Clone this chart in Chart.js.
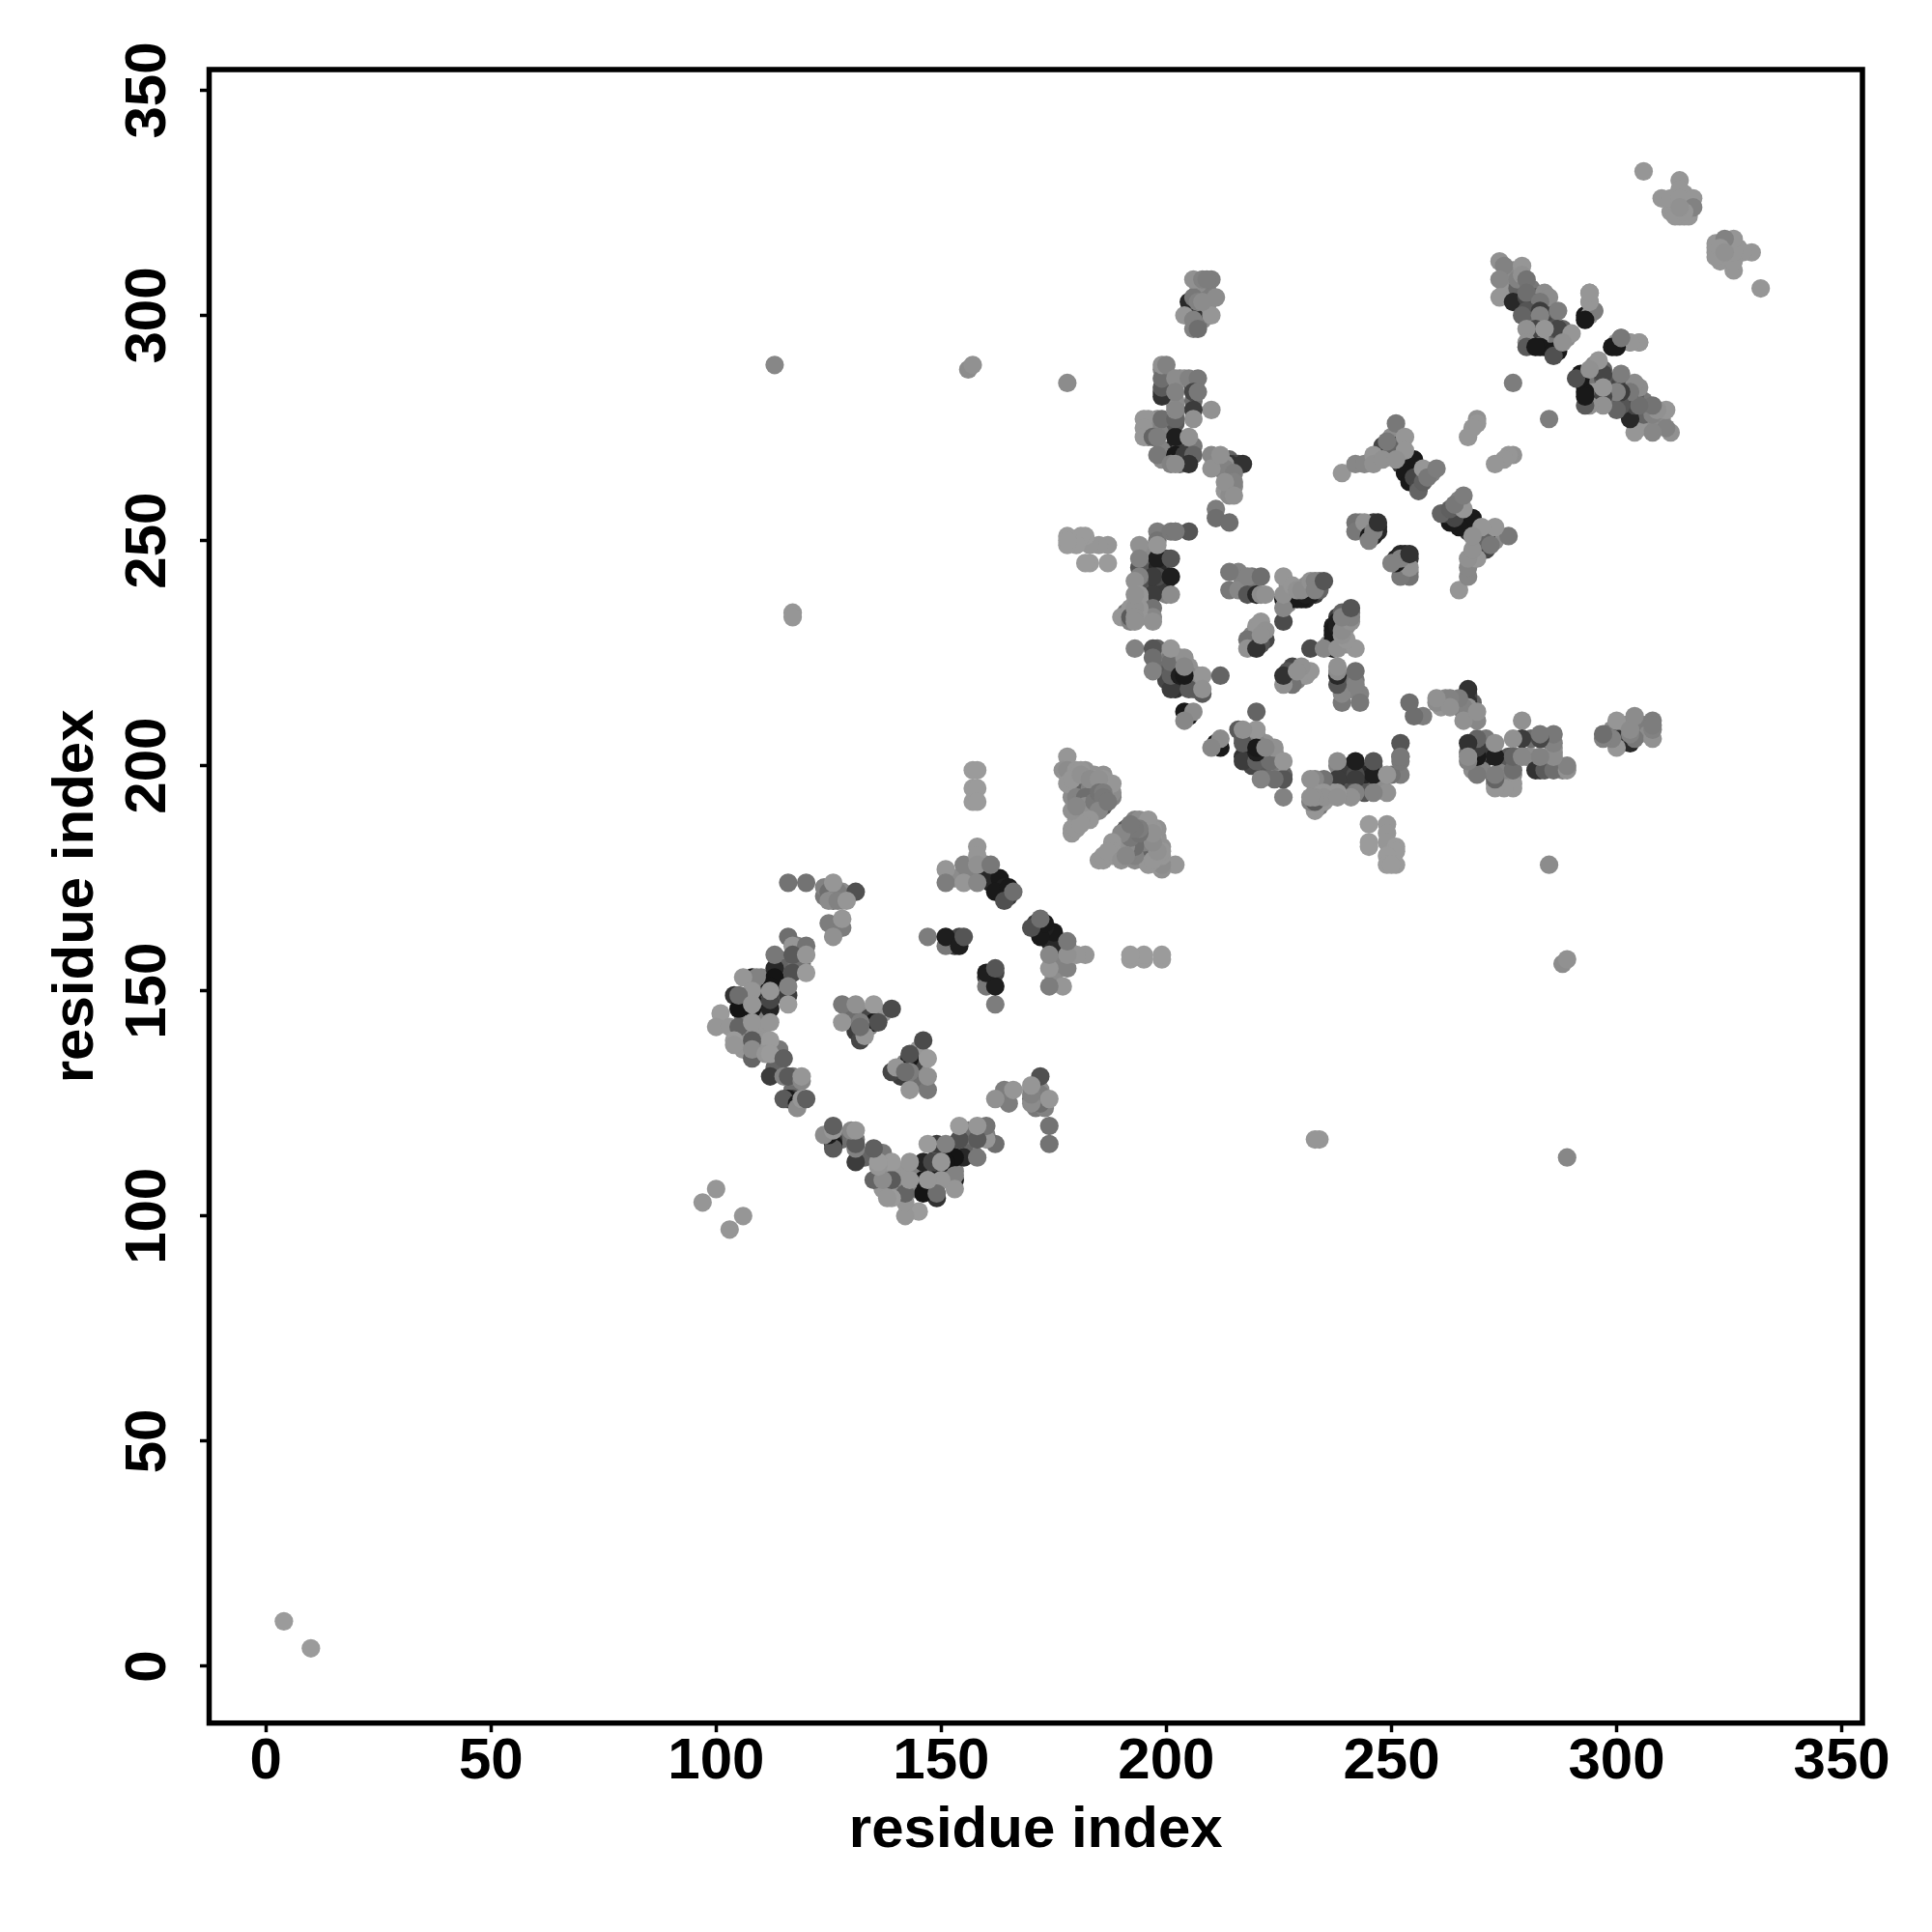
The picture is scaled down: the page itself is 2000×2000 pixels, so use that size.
<!DOCTYPE html>
<html>
<head>
<meta charset="utf-8">
<title>residue contacts</title>
<script src="https://cdn.jsdelivr.net/npm/chart.js@4/dist/chart.umd.min.js"></script>
<style>
  body { margin: 0; background: #fff; }
</style>
</head>
<body>
<canvas id="myChart" width="2000" height="2000"></canvas>
<script>
'use strict';

let xTicks = [0, 50, 100, 150, 200, 250, 300, 350];
let yTicks = [0, 50, 100, 150, 200, 250, 300, 350];
let axisName = 'residue index';

// contacts, upper triangle only (the map is symmetric)
// the first rows are the half hidden ones, they get drawn underneath the rest
let contactI = [
  106, 109, 110, 109, 113, 113, 114, 110, 110, 110, 107, 107, 114, 111, 110, 106, 114, 115, 118, 118, 119, 106, 107, 110, 110, 113, 114, 117, 117, 117,
  124, 126, 128, 127, 128, 126, 130, 133, 134, 131, 137, 134, 152, 153, 153, 154, 159, 161, 162, 163, 161, 163, 164, 165, 160, 157, 153, 156,
  195, 196, 195, 196, 196, 195, 195, 196, 195, 199, 199, 199, 200, 200, 200, 198, 198, 219, 217, 219, 216, 227, 229, 229, 231, 233, 234, 227, 231, 234, 227, 219, 220, 219, 220,
  203, 202, 202, 203, 199, 199, 198, 200, 206, 207, 206, 207, 205, 200,
  249, 250, 252, 252, 254, 254, 256, 255, 253, 252, 250, 247, 259, 257, 243, 246, 246, 244, 243, 247,
  199, 200, 199, 203, 204, 202, 202, 206, 206, 198, 196, 196, 196, 197, 199, 200, 202, 203, 205, 204, 206, 199, 199, 203,
  214, 214, 215, 213, 214, 212, 211, 214, 215, 216, 213,
  207, 208, 209, 208, 209, 207, 208, 206, 205, 209, 207, 207,
  275, 276, 275, 277, 281, 282, 281, 282, 284, 285, 281, 285, 284, 282, 281, 285, 284, 288, 285, 282, 283, 287, 289, 281, 278,
  315, 313, 314, 315, 312, 316, 315, 316,
  4, 97, 100, 113, 156, 157, 178, 117, 117, 277,
  108, 113, 113, 104, 108, 105, 108, 112, 112, 116, 112, 117, 116,
  116, 117, 120, 113, 117, 120, 120, 116, 109, 106, 112, 108, 105, 108, 101, 100, 103, 105, 108, 112,
  104, 104, 108, 112, 108, 108, 111, 112, 115, 112, 115, 116, 119, 119, 116, 115, 118, 118, 119, 120,
  116, 120, 124, 125, 127, 126, 125, 127, 131, 129, 125, 128, 128, 126,
  135, 131, 128, 128, 131, 135, 139, 136, 132, 132, 133, 132,
  147, 151, 151, 154, 155,
  160, 163, 164, 162, 165, 164, 151, 151, 155, 155, 158, 158, 158, 158, 161, 166,
  157, 158, 157, 158, 157, 158,
  178, 177, 178, 178, 180, 182, 184, 186, 186, 179, 179, 180, 181, 182, 183, 183, 184, 185, 186, 187, 188,
  184, 181, 180, 179, 179, 180, 182, 182, 188, 188, 178, 184, 181,
  179, 181, 183, 185, 180, 181, 182, 182, 183, 184, 185, 186, 186, 185, 187, 183, 181, 180, 181, 179, 180,
  187, 187, 183, 182, 185, 183, 182, 181, 180, 178, 178, 178,
  198, 194, 194, 198, 197, 201, 201, 197, 191, 194, 198, 198, 201, 202, 205, 194, 198, 194, 194, 193, 201, 194, 194,
  190, 192, 193, 197, 197, 194, 194, 192, 192, 193, 193, 197, 193, 202, 193,
  214, 214, 216, 218, 218, 220, 221, 221, 222,
  226, 228, 230, 232, 231, 226, 226, 226, 226, 228, 229, 230, 232, 233, 233, 235,
  218, 218, 222, 221, 220, 221, 222, 221,
  193, 197, 197, 197, 201, 201, 201, 201, 201, 201, 204, 203, 205, 205, 208, 208, 208, 212, 204, 204, 201, 204, 205, 206, 204,
  255, 253, 254, 251, 248, 255, 256, 256, 257, 250, 239, 242, 244, 246, 246, 248, 249, 251, 253, 253, 251, 257, 258, 260,
  242, 242, 244, 245, 247, 246, 245, 247,
  269, 269, 268, 267,
  199, 199, 199, 199, 200, 202, 202, 205, 207, 206, 207, 210, 206, 206, 202, 202, 195, 199, 195, 195, 197, 198, 202, 205,
  198, 202, 204, 206, 205, 201, 202, 202, 202,
  214, 217, 213, 213, 215, 215, 213, 210, 210, 212, 215, 211, 211, 214,
  205, 206, 204, 210, 206, 206, 206, 208, 210, 209, 207, 208, 211, 206, 207,
  274, 275, 279, 274, 278, 279, 280, 274, 279, 277, 280, 280, 284, 285, 283, 280, 283, 287, 279, 283,
  286, 282, 287, 290, 280, 284, 280, 280, 283, 282, 286, 287, 286, 288, 294, 294, 293, 295, 300, 301, 303, 305, 299,
  306, 314, 314, 310, 312, 314, 317, 313, 316, 317, 315, 314
];
let contactJ = [
  148, 147, 148, 149, 149, 152, 154, 151, 153, 146, 146, 149, 150, 147, 144, 144, 157, 155, 156, 160, 156, 137, 141, 141, 139, 133, 137, 128, 131, 126,
  171, 172, 172, 171, 170, 170, 145, 145, 144, 143, 145, 142, 161, 161, 160, 162, 176, 176, 174, 173, 174, 172, 172, 171, 178, 176, 175, 176,
  248, 244, 243, 240, 238, 240, 236, 234, 234, 246, 243, 240, 238, 246, 241, 240, 244, 240, 241, 242, 243, 237, 237, 238, 237, 238, 239, 240, 240, 241, 236, 227, 228, 229, 231,
  218, 217, 222, 224, 224, 222, 226, 225, 219, 218, 217, 220, 222, 219,
  270, 269, 269, 267, 266, 265, 265, 266, 268, 272, 273, 268, 265, 264, 253, 254, 251, 252, 254, 253,
  288, 287, 283, 286, 286, 280, 281, 281, 284, 277, 277, 275, 273, 275, 275, 270, 271, 270, 271, 270, 271, 270, 268, 267,
  264, 262, 262, 261, 260, 267, 268, 268, 267, 267, 265,
  305, 305, 305, 301, 302, 300, 299, 302, 301, 306, 307, 298,
  308, 310, 305, 310, 306, 304, 303, 302, 302, 301, 300, 299, 298, 295, 296, 295, 293, 297, 296, 299, 295, 295, 295, 298, 306,
  325, 323, 322, 322, 323, 324, 327, 326,
  10, 103, 106, 289, 288, 289, 285, 234, 233, 285,
  153, 155, 153, 149, 148, 146, 146, 146, 151, 149, 148, 154, 151,
  162, 160, 160, 158, 158, 158, 154, 147, 153, 153, 150, 150, 149, 147, 145, 142, 142, 142, 143, 143,
  139, 138, 139, 139, 135, 137, 136, 136, 135, 131, 131, 131, 130, 131, 126, 126, 125, 124, 126, 126,
  174, 174, 173, 172, 172, 174, 170, 170, 172, 170, 165, 164, 166, 162,
  143, 141, 147, 143, 147, 147, 146, 143, 143, 139, 140, 142,
  162, 160, 162, 160, 162,
  175, 175, 173, 172, 173, 170, 177, 174, 178, 174, 182, 180, 178, 174, 178, 172,
  199, 199, 195, 195, 192, 192,
  202, 199, 198, 199, 199, 199, 198, 198, 197, 195, 193, 196, 194, 196, 195, 193, 194, 192, 191, 194, 193,
  190, 190, 188, 186, 185, 187, 188, 190, 194, 196, 196, 197, 199,
  197, 198, 197, 197, 193, 192, 193, 191, 190, 192, 194, 194, 193, 190, 192, 188, 188, 186, 187, 190, 191,
  245, 249, 245, 245, 249, 249, 251, 251, 249, 249, 251, 250,
  246, 244, 240, 242, 242, 242, 246, 238, 234, 241, 252, 250, 252, 252, 252, 249, 249, 246, 242, 241, 238, 238, 237,
  233, 235, 236, 235, 233, 233, 235, 232, 233, 235, 233, 232, 238, 252, 232,
  243, 239, 239, 242, 238, 238, 242, 238, 238,
  237, 237, 237, 238, 238, 232, 235, 238, 242, 240, 239, 239, 241, 241, 239, 241,
  228, 226, 228, 227, 226, 232, 230, 229,
  226, 226, 224, 221, 217, 222, 221, 220, 224, 223, 224, 220, 220, 217, 220, 216, 217, 220, 220, 222, 226, 212, 211, 212, 210,
  268, 265, 263, 271, 271, 264, 262, 261, 263, 271, 265, 267, 267, 269, 267, 268, 272, 276, 273, 270, 268, 266, 264, 266,
  254, 252, 254, 251, 252, 252, 250, 254,
  277, 276, 275, 273,
  282, 284, 286, 289, 289, 286, 283, 286, 286, 283, 283, 279, 279, 277, 278, 276, 277, 277, 275, 273, 273, 273, 273, 273,
  269, 269, 269, 269, 267, 267, 267, 277, 279,
  267, 267, 267, 266, 265, 263, 263, 269, 266, 269, 260, 257, 255, 254,
  303, 300, 300, 300, 299, 304, 308, 308, 308, 308, 303, 303, 304, 297, 297,
  312, 311, 311, 308, 308, 309, 308, 304, 303, 303, 304, 305, 305, 304, 303, 301, 301, 301, 300, 300,
  297, 297, 297, 296, 297, 297, 294, 293, 293, 293, 292, 292, 291, 294, 305, 303, 300, 301, 294, 295, 294, 294, 293,
  332, 330, 328, 326, 326, 326, 326, 322, 322, 324, 323, 324
];
let contactShade = [
  20, 25, 40, 60, 30, 20, 50, 40, 130, 25, 25, 80, 110, 110, 130, 130, 130, 100, 120, 130, 110, 150, 140, 150, 150, 100, 120, 110, 120, 60,
  120, 130, 140, 150, 150, 110, 110, 140, 70, 110, 150, 130, 40, 35, 60, 70, 100, 40, 25, 25, 40, 30, 30, 60, 130, 130, 140, 130,
  140, 100, 110, 70, 100, 130, 140, 140, 150, 50, 60, 100, 130, 85, 45, 60, 40, 100, 130, 120, 130, 25, 25, 80, 30, 60, 100, 145, 140, 120, 140, 85, 110, 130, 150,
  60, 50, 120, 130, 120, 110, 100, 145, 130, 90, 110, 150, 145, 70,
  90, 130, 40, 60, 30, 40, 60, 90, 30, 130, 140, 150, 130, 90, 130, 60, 30, 120, 140, 45,
  130, 110, 70, 130, 145, 135, 140, 110, 90, 140, 150, 150, 130, 140, 130, 130, 40, 100, 140, 60, 120, 130, 140, 110,
  130, 140, 135, 150, 140, 130, 145, 100, 70, 70, 120,
  125, 120, 135, 125, 140, 130, 140, 110, 100, 125, 140, 120,
  140, 150, 150, 140, 120, 90, 30, 30, 100, 70, 110, 90, 70, 130, 60, 40, 35, 100, 120, 140, 150, 120, 140, 110, 100,
  150, 150, 150, 150, 150, 140, 150, 150,
  155, 150, 150, 135, 140, 145, 140, 150, 150, 125,
  25, 40, 20, 50, 25, 20, 20, 35, 20, 60, 70, 80, 130,
  110, 150, 115, 120, 90, 150, 155, 155, 130, 150, 150, 150, 110, 150, 155, 150, 150, 100, 150, 150,
  155, 150, 90, 155, 100, 140, 150, 155, 95, 60, 130, 90, 135, 150, 25, 90, 25, 140, 150, 95,
  115, 115, 130, 110, 125, 150, 140, 130, 80, 150, 125, 125, 150, 145,
  25, 60, 120, 150, 145, 155, 75, 80, 125, 70, 150, 110,
  125, 120, 30, 30, 85,
  40, 25, 30, 25, 25, 80, 150, 125, 130, 150, 150, 150, 145, 135, 120, 110,
  155, 155, 155, 155, 155, 155,
  150, 145, 150, 140, 150, 145, 145, 145, 150, 140, 140, 110, 120, 100, 130, 125, 110, 130, 90, 135, 130,
  135, 150, 150, 150, 150, 150, 150, 145, 140, 150, 150, 150, 150,
  150, 145, 140, 145, 130, 130, 110, 140, 145, 120, 115, 125, 120, 135, 120, 150, 150, 150, 150, 145, 135,
  155, 150, 155, 155, 150, 150, 155, 155, 155, 155, 155, 155,
  30, 85, 85, 75, 60, 30, 85, 60, 120, 80, 125, 115, 120, 120, 85, 145, 150, 130, 130, 145, 140, 150, 150,
  150, 150, 150, 115, 135, 150, 150, 130, 90, 145, 145, 145, 145, 120, 145,
  120, 120, 135, 130, 85, 40, 110, 140, 145,
  25, 25, 25, 30, 30, 75, 135, 145, 150, 150, 145, 140, 145, 130, 130, 85,
  115, 145, 70, 85, 50, 150, 145, 145,
  130, 85, 110, 130, 60, 90, 90, 95, 120, 110, 145, 30, 135, 90, 150, 90, 145, 100, 25, 135, 150, 25, 25, 140, 135,
  25, 25, 25, 40, 70, 70, 70, 100, 95, 100, 150, 135, 135, 150, 145, 145, 120, 120, 150, 150, 145, 150, 120, 125,
  115, 120, 145, 25, 40, 130, 130, 50,
  145, 150, 150, 150,
  50, 90, 110, 145, 130, 140, 130, 130, 120, 70, 120, 145, 60, 145, 130, 90, 150, 110, 150, 150, 100, 125, 30, 145,
  120, 25, 60, 100, 50, 130, 140, 100, 135,
  50, 50, 145, 130, 125, 130, 145, 135, 145, 145, 145, 125, 110, 110,
  40, 50, 150, 150, 130, 120, 145, 130, 125, 125, 130, 140, 140, 130, 110,
  145, 130, 150, 135, 130, 145, 115, 150, 25, 40, 70, 110, 140, 140, 120, 85, 60, 125, 100, 130,
  85, 70, 70, 150, 145, 150, 145, 90, 25, 25, 25, 25, 80, 145, 150, 150, 25, 120, 150, 125, 150, 150, 25,
  150, 150, 150, 150, 150, 150, 150, 150, 150, 130, 150, 145
];

let tickFontSize = 60;
let titleFontSize = 60;
let fontFamily = '"Liberation Sans", Arimo, Helvetica, Arial, sans-serif';

// each contact i,j is also j,i on the map, so the lists are plotted both ways round
let contactPoints = [];
let contactColors = [];
for (let k = 0; k < contactI.length; k++) {
  contactPoints.push({ x: contactI[k], y: contactJ[k] });
  contactColors.push(`rgb(${contactShade[k]},${contactShade[k]},${contactShade[k]})`);
}
for (let k = 0; k < contactI.length; k++) {
  contactPoints.push({ x: contactJ[k], y: contactI[k] });
  contactColors.push(`rgb(${contactShade[k]},${contactShade[k]},${contactShade[k]})`);
}

let framePlugin = {
  id: 'frame',
  afterDatasetsDraw(chart) {
    let ctx = chart.ctx;
    let area = chart.chartArea;
    ctx.save();
    ctx.strokeStyle = '#000';
    ctx.lineWidth = 5.5;
    ctx.strokeRect(area.left, area.top, area.right - area.left, area.bottom - area.top);

    // y tick labels read upwards and sit centred on their ticks
    let yScale = chart.scales.y;
    ctx.fillStyle = '#000';
    ctx.font = `bold ${tickFontSize}px ${fontFamily}`;
    ctx.textAlign = 'center';
    ctx.textBaseline = 'alphabetic';
    yScale.ticks.forEach(tick => {
      ctx.save();
      ctx.translate(171, yScale.getPixelForValue(tick.value));
      ctx.rotate(-Math.PI / 2);
      ctx.fillText(String(tick.value), 0, 0);
      ctx.restore();
    });
    ctx.restore();
  }
};

function makeScale(position, tickValues, tickOptions, titlePadding, fitCallback) {
  return {
    type: 'linear',
    position: position,
    min: -12.6,
    max: 354.6,
    afterBuildTicks(axis) {
      axis.ticks = tickValues.map(v => ({ value: v }));
    },
    afterFit: fitCallback,
    border: { display: false },
    grid: {
      display: true,
      drawOnChartArea: false,
      drawTicks: true,
      tickLength: 9.5,
      tickWidth: 3.5,
      tickColor: '#000'
    },
    ticks: Object.assign({
      autoSkip: false,
      color: '#000',
      font: { family: fontFamily, size: tickFontSize, weight: 'bold' }
    }, tickOptions),
    title: {
      display: true,
      text: axisName,
      color: '#000',
      font: { family: fontFamily, size: titleFontSize, weight: 'bold' },
      padding: titlePadding
    }
  };
}

let ctx = document.getElementById('myChart').getContext('2d');
new Chart(ctx, {
  type: 'scatter',
  data: {
    datasets: [{
      label: axisName,
      data: contactPoints,
      pointBackgroundColor: contactColors,
      pointBorderWidth: 0,
      pointRadius: 9.6,
      showLine: false
    }]
  },
  options: {
    responsive: false,
    animation: false,
    devicePixelRatio: 1,
    layout: { padding: { top: 72, right: 72, bottom: 0, left: 0 } },
    plugins: {
      legend: { display: false },
      tooltip: { enabled: false }
    },
    scales: {
      x: makeScale('bottom', xTicks,
        { padding: -5, maxRotation: 0, minRotation: 0 },
        { top: 0, bottom: 69 },
        axis => { axis.height = 216.3; }),
      y: makeScale('left', yTicks,
        { display: false },
        { top: 43, bottom: 0 },
        axis => { axis.width = 216.5; axis.paddingTop = 0; axis.paddingBottom = 0; })
    }
  },
  plugins: [framePlugin]
});
</script>
</body>
</html>
